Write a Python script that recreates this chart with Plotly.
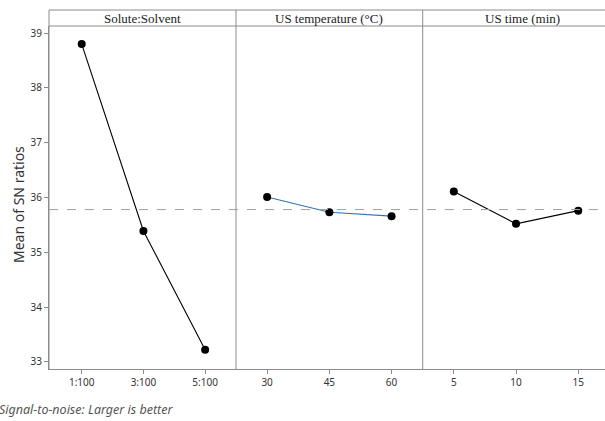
import plotly.graph_objects as go

# ---- data ----
factors = ["Solute:Solvent", "US temperature (°C)", "US time (min)"]
solute_levels = ["1:100", "3:100", "5:100"]
solute_sn = [38.80, 35.39, 33.22]
temp_levels = ["30", "45", "60"]
temp_sn = [36.01, 35.73, 35.66]
time_levels = ["5", "10", "15"]
time_sn = [36.11, 35.52, 35.76]
y_ticks = [33, 34, 35, 36, 37, 38, 39]
grand_mean = 35.78

W, H = 605, 421
L, R, T, B = 49, 0, 10, 52
pw = W - L - R
ph = H - T - B

def px_x(x):
    return (x - L) / pw

def px_y(y):
    return (H - B - y) / ph

div1, div2 = 236, 422.7
header = 26

fig = go.Figure()

axis_names = ["x", "x2", "x3"]
levels = [solute_levels, temp_levels, time_levels]
values = [solute_sn, temp_sn, time_sn]
line_colors = ["#000000", "#2e75b6", "#000000"]
for ax, lv, vals, lc in zip(axis_names, levels, values, line_colors):
    fig.add_trace(go.Scatter(
        x=list(range(len(lv))), y=vals, xaxis=ax, yaxis="y",
        mode="lines+markers",
        line=dict(color=lc, width=1.1),
        marker=dict(color="#000000", size=8),
        showlegend=False, hoverinfo="skip"))

grid_col = "#8c8c8c"
common_x = dict(showgrid=False, zeroline=False, showline=True, linecolor=grid_col,
                ticks="outside", ticklen=4, tickcolor=grid_col, tickvals=[0, 1, 2],
                tickfont=dict(family="Noto Sans", size=10, color="#333333"), anchor="y",
                fixedrange=True)

d1 = px_x(div1)
d2 = px_x(div2)
fig.update_layout(
    width=W, height=H, margin=dict(l=L, r=R, t=T, b=B),
    paper_bgcolor="white", plot_bgcolor="white",
    xaxis=dict(domain=[0, d1], range=[-0.53, 2.5], ticktext=solute_levels, **common_x),
    xaxis2=dict(domain=[d1, d2], range=[-0.5, 2.5], ticktext=temp_levels, **common_x),
    xaxis3=dict(domain=[d2, 1], range=[-0.5, 2.43], ticktext=time_levels, **common_x),
    yaxis=dict(domain=[0, px_y(header)], range=[32.87, 39.13], tickvals=y_ticks,
               showgrid=False, zeroline=False, showline=True, linecolor=grid_col,
               ticks="outside", ticklen=4, tickcolor=grid_col,
               tickfont=dict(family="Noto Sans", size=10, color="#333333"),
               anchor="x", fixedrange=True),
)

# borders and header strip
shapes = []
lw = dict(color=grid_col, width=1)
shapes.append(dict(type="line", xref="paper", yref="paper", x0=0, x1=1, y0=1, y1=1, line=lw))
shapes.append(dict(type="line", xref="paper", yref="paper", x0=0, x1=0, y0=0, y1=1, line=lw))
shapes.append(dict(type="line", xref="paper", yref="paper", x0=0, x1=1,
                   y0=px_y(header), y1=px_y(header), line=lw))
for d in (d1, d2):
    shapes.append(dict(type="line", xref="paper", yref="paper", x0=d, x1=d, y0=0, y1=1, line=lw))
# grand mean reference line
shapes.append(dict(type="line", xref="paper", yref="y", x0=0, x1=1,
                   y0=grand_mean, y1=grand_mean,
                   line=dict(color="#a0a0a0", width=1, dash="dash")))
fig.update_layout(shapes=shapes)

annotations = []
centers = [(L + div1) / 2, (div1 + div2) / 2, 522]
for name, c in zip(factors, centers):
    annotations.append(dict(text=name, xref="paper", yref="paper", x=px_x(c), y=px_y(18),
                            showarrow=False, xanchor="center", yanchor="middle",
                            font=dict(family="Liberation Serif", size=13, color="#222222")))
annotations.append(dict(text="Mean of SN ratios", xref="paper", yref="paper",
                        x=px_x(18), y=px_y(205), textangle=-90, showarrow=False,
                        xanchor="center", yanchor="middle",
                        font=dict(family="Noto Sans", size=14, color="#333333")))
annotations.append(dict(text="<i>Signal-to-noise: Larger is better</i>", xref="paper", yref="paper",
                        x=px_x(-3), y=px_y(409), showarrow=False,
                        xanchor="left", yanchor="middle",
                        font=dict(family="Noto Sans", size=12.5, color="#555555")))
fig.update_layout(annotations=annotations)

fig.write_html("out.html", config={"displayModeBar": False},
               post_script="document.body.style.margin='0';document.body.style.overflow='hidden';")
